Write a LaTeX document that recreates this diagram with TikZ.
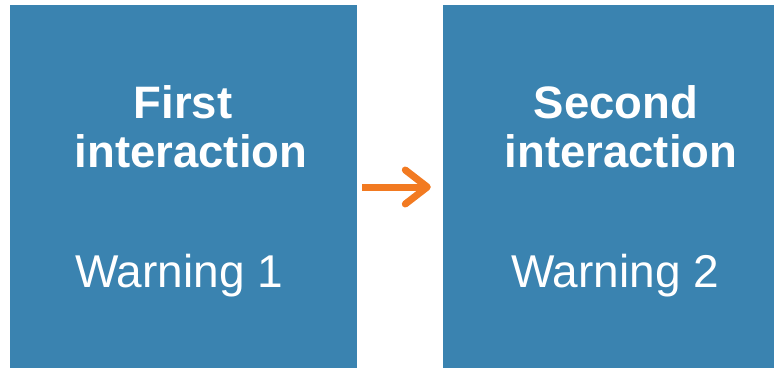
\documentclass[tikz,border=0pt]{standalone}
\usepackage{fontspec}
\setmainfont{Liberation Sans}
\usetikzlibrary{arrows.meta}
\definecolor{boxblue}{HTML}{3A83B0}
\definecolor{arrorange}{HTML}{F27A21}
\begin{document}
\begin{tikzpicture}[x=1pt,y=1pt,
  panel/.style={fill=boxblue,draw=none,minimum width=347pt,minimum height=363pt,inner sep=0pt},
  title/.style={text=white,font=\fontsize{45.5}{49}\selectfont\bfseries,align=center,anchor=base,inner sep=0pt},
  warn/.style={text=white,font=\fontsize{46}{49}\selectfont,anchor=base,inner sep=0pt},
  flow/.style={draw=arrorange,line width=7pt,-{Straight Barb[length=22pt,width=34pt,round]}}]
\useasboundingbox (0,0) rectangle (774,-368);
\clip (0,0) rectangle (774,-368);
\node[panel] (boxA) at (183.5,-186.5) {};
\node[panel] (boxB) at (616.5,-186.5) {};
\node[title] (tA) at (183,-167) {First\\\hspace*{16pt}interaction};
\node[title] (tB) at (616,-167) {Second\\\hspace*{10pt}interaction};
\node[warn] (wA) at (179,-287) {Warning 1};
\node[warn] (wB) at (615,-287) {Warning 2};
\draw[flow,shorten <=5pt,shorten >=12pt] (boxA.east |- 0,-187) -- (boxB.west |- 0,-187);
\end{tikzpicture}
\end{document}
